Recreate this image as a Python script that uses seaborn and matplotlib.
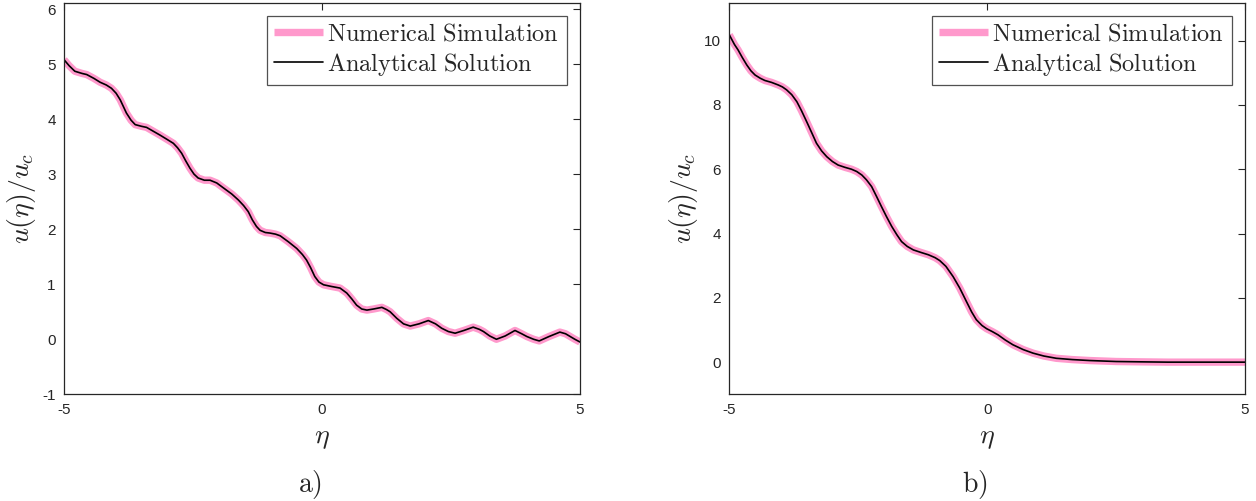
import numpy as np
import pandas as pd
import matplotlib
matplotlib.use("Agg")
import matplotlib.pyplot as plt
import seaborn as sns

# ---- data ----
eta_a = [-5.00, -4.90, -4.79, -4.65, -4.56, -4.42, -4.30, -4.18, -4.08, -3.99,
         -3.91, -3.85, -3.79, -3.70, -3.62, -3.50, -3.40, -3.27, -3.14, -3.00,
         -2.88, -2.80, -2.72, -2.64, -2.56, -2.48, -2.40, -2.28, -2.17, -2.04,
         -1.91, -1.75, -1.62, -1.52, -1.43, -1.35, -1.27, -1.20, -1.10, -1.01,
         -0.90, -0.81, -0.65, -0.49, -0.38, -0.30, -0.22, -0.14, -0.06, 0.03,
         0.18, 0.35, 0.48, 0.58, 0.67, 0.77, 0.87, 1.00, 1.16, 1.25,
         1.32, 1.45, 1.58, 1.71, 1.88, 2.06, 2.20, 2.32, 2.45, 2.58,
         2.75, 2.93, 3.05, 3.13, 3.25, 3.38, 3.55, 3.74, 3.87, 3.97,
         4.10, 4.21, 4.40, 4.61, 4.72, 4.81, 4.90, 5.00]
u_a = [5.08, 4.97, 4.87, 4.83, 4.81, 4.74, 4.67, 4.62, 4.56, 4.47,
       4.35, 4.23, 4.11, 3.98, 3.90, 3.87, 3.85, 3.78, 3.71, 3.63,
       3.56, 3.48, 3.38, 3.24, 3.11, 3.00, 2.93, 2.89, 2.89, 2.84,
       2.75, 2.64, 2.53, 2.43, 2.32, 2.17, 2.05, 1.98, 1.94, 1.93,
       1.91, 1.88, 1.77, 1.65, 1.54, 1.44, 1.30, 1.14, 1.04, 0.99,
       0.96, 0.93, 0.84, 0.73, 0.62, 0.55, 0.53, 0.55, 0.58, 0.54,
       0.50, 0.38, 0.28, 0.24, 0.28, 0.34, 0.28, 0.20, 0.14, 0.11,
       0.16, 0.22, 0.18, 0.14, 0.06, 0.00, 0.06, 0.16, 0.10, 0.05,
       0.00, -0.03, 0.05, 0.13, 0.10, 0.05, 0.00, -0.05]

eta_b = [-5.00, -4.90, -4.83, -4.75, -4.66, -4.58, -4.50, -4.40, -4.31, -4.18,
         -4.05, -3.97, -3.89, -3.79, -3.69, -3.60, -3.50, -3.40, -3.31, -3.21,
         -3.11, -3.00, -2.89, -2.76, -2.63, -2.53, -2.43, -2.34, -2.24, -2.15,
         -2.05, -1.95, -1.85, -1.75, -1.66, -1.55, -1.43, -1.28, -1.14, -1.01,
         -0.92, -0.80, -0.66, -0.53, -0.40, -0.30, -0.21, -0.10, -0.01, 0.10,
         0.21, 0.35, 0.50, 0.70, 0.89, 1.10, 1.34, 1.65, 1.99, 2.50,
         2.96, 3.50, 4.00, 4.50, 5.00]
u_b = [10.18, 9.88, 9.71, 9.48, 9.24, 9.06, 8.93, 8.83, 8.76, 8.70,
       8.62, 8.56, 8.47, 8.32, 8.10, 7.82, 7.48, 7.13, 6.81, 6.57,
       6.39, 6.24, 6.13, 6.06, 6.00, 5.93, 5.82, 5.67, 5.46, 5.17,
       4.84, 4.52, 4.22, 3.96, 3.75, 3.60, 3.49, 3.41, 3.34, 3.25,
       3.16, 2.98, 2.66, 2.30, 1.88, 1.56, 1.32, 1.14, 1.04, 0.95,
       0.85, 0.69, 0.54, 0.39, 0.28, 0.19, 0.12, 0.08, 0.05, 0.02,
       0.01, 0.00, 0.00, 0.00, 0.00]

xticks = [-5, 0, 5]
yticks_a = [-1, 0, 1, 2, 3, 4, 5, 6]
yticks_b = [0, 2, 4, 6, 8, 10]
series_names = ["Numerical Simulation", "Analytical Solution"]
panel_tags = ["a)", "b)"]

# ---- style ----
sns.set_theme(style="white")
plt.rcParams["font.family"] = ["Liberation Sans", "DejaVu Sans"]
plt.rcParams["mathtext.fontset"] = "cm"
plt.rcParams["axes.unicode_minus"] = False

fig = plt.figure(figsize=(12.56, 5.01), dpi=100)
ax_a = fig.add_axes([64 / 1256, 1 - 394.3 / 501, 516 / 1256, 391.3 / 501])
ax_b = fig.add_axes([729.3 / 1256, 1 - 394.3 / 501, 515.7 / 1256, 391.3 / 501])

pink = "#ff99cc"
dark = "#262626"


def tex(s):
    return r"$\mathrm{" + s.replace(" ", r"\ ") + "}$"


def draw(ax, eta, u, yticks, ylim, tag):
    df = pd.DataFrame({"eta": eta, "u": u})
    sns.lineplot(data=df, x="eta", y="u", ax=ax, color=pink, lw=5.3,
                 label=tex(series_names[0]), sort=False,
                 solid_capstyle="butt", solid_joinstyle="round")
    sns.lineplot(data=df, x="eta", y="u", ax=ax, color="black", lw=1.2,
                 label=tex(series_names[1]), sort=False)
    ax.set_xlim(-5, 5)
    ax.set_ylim(*ylim)
    ax.set_xticks(xticks)
    ax.set_xticklabels([str(t) for t in xticks])
    ax.set_yticks(yticks)
    ax.set_yticklabels([str(t) for t in yticks])
    ax.tick_params(direction="in", length=5, width=0.8, colors=dark,
                   labelsize=11, top=True, right=True,
                   labeltop=False, labelright=False)
    ax.tick_params(axis="x", pad=6)
    ax.tick_params(axis="y", pad=6)
    for s in ax.spines.values():
        s.set_color(dark)
        s.set_linewidth(0.9)
    ax.set_xlabel(r"$\eta$", fontsize=20, labelpad=6)
    ax.set_ylabel(r"$u(\eta)/u_c$", fontsize=20, labelpad=3)
    leg = ax.legend(loc="upper right", fontsize=17.5, frameon=True,
                    fancybox=False, handlelength=2.0, handletextpad=0.2,
                    borderaxespad=0.55, labelspacing=0.2, borderpad=0.3)
    leg.get_frame().set_edgecolor(dark)
    leg.get_frame().set_linewidth(0.9)
    ax.text(0.0, -0.231, r"$\mathrm{" + tag + "}$",
            transform=ax.get_xaxis_transform(),
            ha="right", va="center", fontsize=20)


draw(ax_a, eta_a, u_a, yticks_a, (-1, 6.11), panel_tags[0])
draw(ax_b, eta_b, u_b, yticks_b, (-1, 11.17), panel_tags[1])

fig.savefig("out.png", dpi=100)
